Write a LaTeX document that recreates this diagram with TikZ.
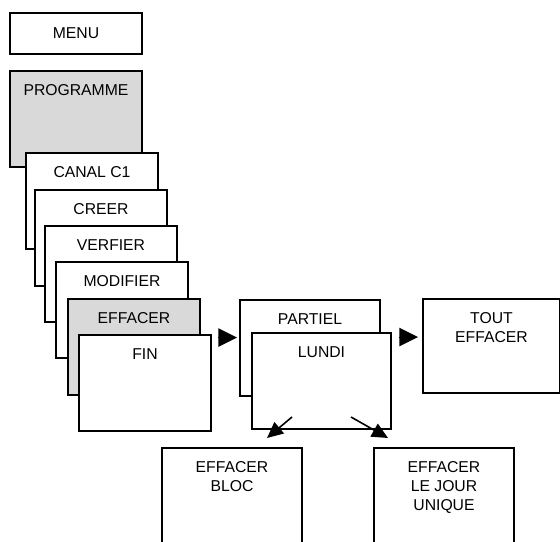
\documentclass[tikz,border=0pt]{standalone}
\usepackage{fontspec}
\setmainfont{Liberation Sans}
\usetikzlibrary{arrows.meta,calc}
\definecolor{menugray}{RGB}{217,217,217}
\tikzset{every picture/.style={line width=0.75pt}}
\tikzset{
	menubox/.style={draw, line width=1.5pt, fill=white, anchor=north west, inner sep=0pt, minimum width=99pt, minimum height=72pt, font=\fontsize{11.8}{14.25}\selectfont},
	menutext/.style={font=\fontsize{11.8}{14.25}\selectfont, align=center, inner sep=0pt, anchor=north},
	bigtri/.style={-{Triangle[length=14pt,width=14pt]}, line width=0pt},
	downarr/.style={-{Triangle[length=12pt,width=11pt]}, line width=1.2pt},
}

\begin{document}
\begin{tikzpicture}[x=0.75pt,y=0.75pt,yscale=-1,xscale=1]
		\useasboundingbox (0,0) rectangle (560,542);
		
		%Shape: Rectangle [menu]
		\node[menubox, minimum height=30.75pt] (menu) at (9,12) {MENU};
		%Shape: Rectangle [programme]
		\node[menubox, fill=menugray] (prog) at (9,70) {};
		\node[menutext] (progT) at ($(prog.north)+(0,14.5)$) {PROGRAMME};
		
		%stack of sub menus
		\node[menubox] (canal) at (25,152) {};
		\node[menutext] (canalT) at ($(canal.north)+(0,14.5)$) {CANAL C1};
		\node[menubox] (creer) at (34,189) {};
		\node[menutext] (creerT) at ($(creer.north)+(0,14.5)$) {CREER};
		\node[menubox] (verif) at (44,225) {};
		\node[menutext] (verifT) at ($(verif.north)+(0,14.5)$) {VERFIER};
		\node[menubox] (modif) at (55,261) {};
		\node[menutext] (modifT) at ($(modif.north)+(0,14.5)$) {MODIFIER};
		\node[menubox, fill=menugray] (effac) at (67,298) {};
		\node[menutext] (effacT) at ($(effac.north)+(0,14.5)$) {EFFACER};
		\node[menubox] (fin) at (78,334) {};
		\node[menutext] (finT) at ($(fin.north)+(0,14.5)$) {FIN};
		
		%Shape: Rectangle [partiel / lundi]
		\node[menubox, minimum width=105pt] (partiel) at (239,299) {};
		\node[menutext] (partielT) at ($(partiel.north)+(0,14.5)$) {PARTIEL};
		\node[menubox, minimum width=104.25pt] (lundi) at (251,332) {};
		\node[menutext] (lundiT) at ($(lundi.north)+(0,14.5)$) {LUNDI};
		
		%Shape: Rectangle [tout effacer]
		\node[menubox, minimum width=102.75pt, minimum height=70.5pt] (tout) at (422,298) {};
		\node[menutext] (toutT) at ($(tout.north)+(0,14.5)$) {TOUT\\EFFACER};
		
		%Shape: Rectangle [bottom]
		\node[menubox, minimum width=105pt, minimum height=90pt] (bloc) at (161,447) {};
		\node[menutext] (blocT) at ($(bloc.north)+(0,14.5)$) {EFFACER\\BLOC};
		\node[menubox, minimum width=105pt, minimum height=90pt] (jour) at (373,447) {};
		\node[menutext] (jourT) at ($(jour.north)+(0,14.5)$) {EFFACER\\LE JOUR\\UNIQUE};
		
		%arrows
		\coordinate (t1a) at (218,337.5);
		\coordinate (t1b) at (237,337.5);
		\coordinate (t2a) at (400,337);
		\coordinate (t2b) at (418,337);
		\draw[bigtri] (t1a) -- (t1b);
		\draw[bigtri] (t2a) -- (t2b);
		
		\coordinate (d1a) at (292,417);
		\coordinate (d1b) at (267,438);
		\coordinate (d2a) at (351,417);
		\coordinate (d2b) at (388,438);
		\draw[downarr] (d1a) -- (d1b);
		\draw[downarr] (d2a) -- (d2b);
		
	\end{tikzpicture}
\end{document}
